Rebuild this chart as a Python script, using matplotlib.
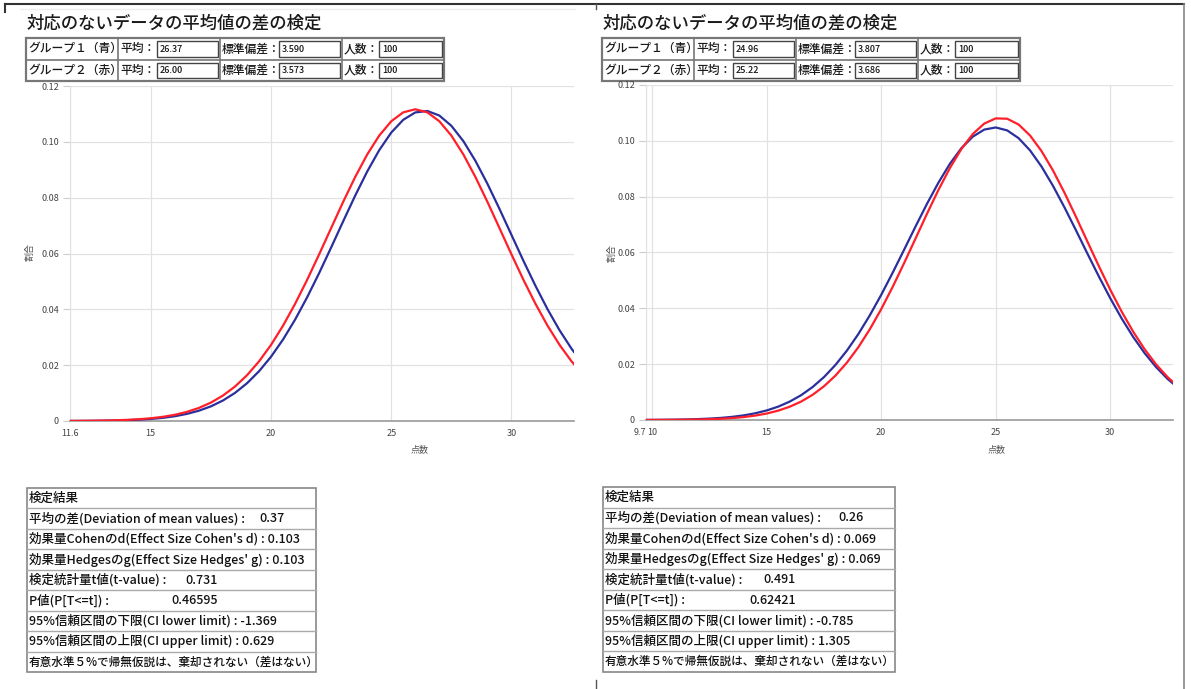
import matplotlib
matplotlib.use("Agg")
import matplotlib.pyplot as plt
from matplotlib.patches import Rectangle

plt.rcParams['font.family'] = ['Noto Sans CJK JP', 'DejaVu Sans']

W, H = 1191, 689

# Header values (group 1 = blue, group 2 = red)
title = "対応のないデータの平均値の差の検定"
group_names = ["グループ１（青）", "グループ２（赤）"]
means_left = ["26.37", "26.00"]
sds_left = ["3.590", "3.573"]
means_right = ["24.96", "25.22"]
sds_right = ["3.807", "3.686"]
counts = ["100", "100"]

# Curve samples
x_left = [11.5, 12.0, 12.5, 13.0, 13.5, 14.0, 14.5, 15.0, 15.5, 16.0, 16.5,
          17.0, 17.5, 18.0, 18.5, 19.0, 19.5, 20.0, 20.5, 21.0, 21.5, 22.0,
          22.5, 23.0, 23.5, 24.0, 24.5, 25.0, 25.5, 26.0, 26.5, 27.0, 27.5,
          28.0, 28.5, 29.0, 29.5, 30.0, 30.5, 31.0, 31.5, 32.0, 32.5, 33.0]
blue_left = [0.00002, 0.00004, 0.00006, 0.00011, 0.00018, 0.00029, 0.00047, 0.00074,
             0.00113, 0.00171, 0.00254, 0.00369, 0.00525, 0.00734, 0.01005, 0.01351,
             0.01781, 0.02302, 0.02919, 0.03630, 0.04428, 0.05297, 0.06215, 0.07153,
             0.08073, 0.08936, 0.09702, 0.10332, 0.10790, 0.11053, 0.11105, 0.10942,
             0.10575, 0.10024, 0.09319, 0.08497, 0.07599, 0.06665, 0.05733, 0.04838,
             0.04003, 0.03249, 0.02586, 0.02019]
red_left = [0.00003, 0.00005, 0.00009, 0.00015, 0.00025, 0.00040, 0.00063, 0.00098,
            0.00149, 0.00222, 0.00326, 0.00468, 0.00659, 0.00911, 0.01233, 0.01638,
            0.02134, 0.02726, 0.03415, 0.04195, 0.05052, 0.05967, 0.06911, 0.07849,
            0.08741, 0.09547, 0.10224, 0.10737, 0.11057, 0.11166, 0.11057, 0.10737,
            0.10224, 0.09547, 0.08741, 0.07849, 0.06911, 0.05967, 0.05052, 0.04195,
            0.03415, 0.02726, 0.02134, 0.01638]

x_right = [9.5, 10.0, 10.5, 11.0, 11.5, 12.0, 12.5, 13.0, 13.5, 14.0, 14.5, 15.0,
           15.5, 16.0, 16.5, 17.0, 17.5, 18.0, 18.5, 19.0, 19.5, 20.0, 20.5, 21.0,
           21.5, 22.0, 22.5, 23.0, 23.5, 24.0, 24.5, 25.0, 25.5, 26.0, 26.5, 27.0,
           27.5, 28.0, 28.5, 29.0, 29.5, 30.0, 30.5, 31.0, 31.5, 32.0, 32.5, 33.0]
blue_right = [0.00003, 0.00005, 0.00008, 0.00013, 0.00020, 0.00032, 0.00050, 0.00075,
              0.00113, 0.00166, 0.00241, 0.00342, 0.00478, 0.00657, 0.00887, 0.01178,
              0.01536, 0.01970, 0.02484, 0.03077, 0.03747, 0.04484, 0.05276, 0.06100,
              0.06934, 0.07746, 0.08504, 0.09179, 0.09736, 0.10151, 0.10403, 0.10479,
              0.10374, 0.10095, 0.09656, 0.09078, 0.08388, 0.07618, 0.06801, 0.05967,
              0.05147, 0.04363, 0.03635, 0.02977, 0.02396, 0.01896, 0.01474, 0.01127]
red_right = [0.00001, 0.00002, 0.00004, 0.00006, 0.00011, 0.00017, 0.00028, 0.00044,
             0.00069, 0.00105, 0.00158, 0.00232, 0.00335, 0.00474, 0.00659, 0.00900,
             0.01207, 0.01589, 0.02054, 0.02606, 0.03247, 0.03971, 0.04768, 0.05620,
             0.06504, 0.07390, 0.08243, 0.09028, 0.09707, 0.10246, 0.10619, 0.10804,
             0.10792, 0.10584, 0.10190, 0.09632, 0.08939, 0.08144, 0.07285, 0.06397,
             0.05516, 0.04668, 0.03880, 0.03165, 0.02535, 0.01994, 0.01539, 0.01167]

# Axis ticks
yticks = [0, 0.02, 0.04, 0.06, 0.08, 0.10, 0.12]
ytick_labels = ["0", "0.02", "0.04", "0.06", "0.08", "0.10", "0.12"]
xticks_left = [11.64, 15, 20, 25, 30]
xtick_labels_left = ["11.6", "15", "20", "25", "30"]
xticks_right = [9.73, 10, 15, 20, 25, 30]
xtick_labels_right = ["9.7", "10", "15", "20", "25", "30"]

# Test result tables
result_rows_left = [
    ("検定結果", None),
    ("平均の差(Deviation of mean values) :", "0.37"),
    ("効果量Cohenのd(Effect Size Cohen's d) : 0.103", None),
    ("効果量Hedgesのg(Effect Size Hedges' g) : 0.103", None),
    ("検定統計量t値(t-value) :", "0.731"),
    ("P値(P[T<=t]) :", "0.46595"),
    ("95%信頼区間の下限(CI lower limit) : -1.369", None),
    ("95%信頼区間の上限(CI upper limit) : 0.629", None),
    ("有意水準５%で帰無仮説は、棄却されない（差はない）", None),
]
result_rows_right = [
    ("検定結果", None),
    ("平均の差(Deviation of mean values) :", "0.26"),
    ("効果量Cohenのd(Effect Size Cohen's d) : 0.069", None),
    ("効果量Hedgesのg(Effect Size Hedges' g) : 0.069", None),
    ("検定統計量t値(t-value) :", "0.491"),
    ("P値(P[T<=t]) :", "0.62421"),
    ("95%信頼区間の下限(CI lower limit) : -0.785", None),
    ("95%信頼区間の上限(CI upper limit) : 1.305", None),
    ("有意水準５%で帰無仮説は、棄却されない（差はない）", None),
]

BLUE = "#2b2f9c"
RED = "#ff1f2a"

fig = plt.figure(figsize=(W / 100, H / 100), dpi=100)
bg = fig.add_axes([0, 0, 1, 1], zorder=-1)
bg.set_xlim(0, W)
bg.set_ylim(H, 0)
bg.axis('off')

# outer frame
bg.plot([5, 1184], [4, 4], color="#333333", lw=1.5)
bg.plot([5, 5], [4, 12], color="#333333", lw=1.5)
bg.plot([1184, 1184], [4, 689], color="#888888", lw=1.2)
bg.plot([596, 596], [4, 9], color="#555555", lw=1)
bg.plot([596, 596], [680, 689], color="#555555", lw=1)
bg.plot([20, 575], [9, 9], color="#eeeeee", lw=1)


def header(x0, means, sds):
    bg.text(x0 + 1, 24, title, fontsize=12.5, va='center', ha='left', color="#1a1a1a",
            fontweight='medium')
    cols = [x0, x0 + 92, x0 + 194, x0 + 316, x0 + 418]
    rows = [38, 59.5, 81]
    bg.add_patch(Rectangle((cols[0], rows[0]), cols[-1] - cols[0], rows[-1] - rows[0],
                           fill=False, ec="#777777", lw=1.6))
    for c in cols[1:-1]:
        bg.plot([c, c], [rows[0], rows[-1]], color="#777777", lw=1.2)
    bg.plot([cols[0], cols[-1]], [rows[1], rows[1]], color="#777777", lw=1.2)
    for i in range(2):
        yc = (rows[i] + rows[i + 1]) / 2
        vals = [means[i], sds[i], counts[i]]
        labels = ["平均：", "標準偏差：", "人数："]
        bg.text(cols[0] + 2, yc, group_names[i], fontsize=8.5, va='center',
                color="#1a1a1a", fontweight='medium')
        for j in range(3):
            c0, c1 = cols[j + 1], cols[j + 2]
            bg.text(c0 + 2, yc, labels[j], fontsize=8.5, va='center', color="#1a1a1a",
                    fontweight='medium')
            bx = c1 - 63 if j < 2 else c0 + 37
            bg.add_patch(Rectangle((bx, rows[i] + 3), c1 - 2 - bx, rows[i + 1] - rows[i] - 6,
                                   fill=True, fc="white", ec="#444444", lw=1.0))
            bg.text(bx + 3, yc + 0.5, vals[j], fontsize=6.5, va='center', color="#111111",
                    fontweight='medium')


def results(x0, x1, y0, rows, value_x):
    rh = (672 - y0) / len(rows)
    bg.add_patch(Rectangle((x0, y0), x1 - x0, rh * len(rows), fill=False,
                           ec="#888888", lw=1.2))
    for k, (label, val) in enumerate(rows):
        top = y0 + k * rh
        size = 8.4 if k == len(rows) - 1 else 9
        if k > 0:
            bg.plot([x0, x1], [top, top], color="#aaaaaa", lw=1)
        bg.text(x0 + 2, top + rh / 2, label, fontsize=size, va='center', color="#111111",
                fontweight='medium')
        if val is not None:
            bg.text(value_x[k], top + rh / 2, val, fontsize=size, va='center',
                    color="#111111", fontweight='medium')


header(26, means_left, sds_left)
header(602, means_right, sds_right)
results(27, 316, 488, result_rows_left, {1: 259, 4: 185, 5: 171})
results(603, 895, 487, result_rows_right, {1: 838, 4: 763, 5: 749})


def chart(rect, xs, blue, red, xmin, xmax, xticks, xlabels, xlab_px, ylab_px):
    ax = fig.add_axes([rect[0] / W, 1 - rect[3] / H, (rect[2] - rect[0]) / W,
                       (rect[3] - rect[1]) / H])
    ax.plot(xs, blue, color=BLUE, lw=1.6, zorder=3, solid_joinstyle='round')
    ax.plot(xs, red, color=RED, lw=1.6, zorder=3, solid_joinstyle='round')
    ax.set_xlim(xmin, xmax)
    ax.set_ylim(0, 0.12)
    ax.set_yticks(yticks)
    ax.set_yticklabels(ytick_labels)
    ax.set_xticks(xticks)
    ax.set_xticklabels(xlabels)
    ax.grid(True, color="#e2e2e2", lw=0.9)
    ax.set_axisbelow(True)
    for s in ["top", "right"]:
        ax.spines[s].set_visible(False)
    ax.spines["left"].set_color("#e2e2e2")
    ax.spines["bottom"].set_color("#999999")
    ax.spines["bottom"].set_linewidth(1.2)
    ax.tick_params(axis='x', length=0, pad=6, labelsize=6.5, labelcolor="#444444")
    ax.tick_params(axis='y', length=5, color="#cccccc", pad=3, labelsize=6.5,
                   labelcolor="#444444")
    bg.text(xlab_px[0], xlab_px[1], "点数", fontsize=6.5, color="#555555",
            ha='center', va='center')
    bg.text(ylab_px[0], ylab_px[1], "割合", fontsize=6.5, color="#555555",
            ha='center', va='center', rotation=90)
    return ax


chart((70, 86, 574, 421), x_left, blue_left, red_left, 11.64, 32.6,
      xticks_left, xtick_labels_left, (420, 450), (30, 252))
axr = chart((646, 85, 1173, 420), x_right, blue_right, red_right, 9.73, 32.74,
            xticks_right, xtick_labels_right, (997, 450), (612, 253))
# the xmin label sits just left of the "10" label, as in the original
first = axr.get_xticklabels()[0]
first.set_horizontalalignment('right')
first.set_x(9.80)

fig.savefig("out.png", dpi=100)
